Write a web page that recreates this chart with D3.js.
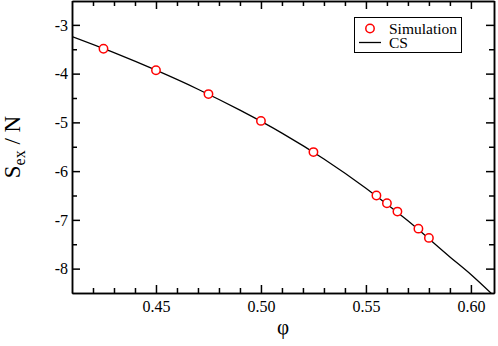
<!DOCTYPE html>
<html lang="en">
<head>
<meta charset="UTF-8">
<title>Sex / N</title>
<script src="https://cdnjs.cloudflare.com/ajax/libs/d3/7.8.4/d3.min.js"></script>
<style>
  body { margin: 0; background: #fff; }
  svg text { font-family: "Liberation Serif", "DejaVu Serif", serif; fill: #000; }
  .axis path, .axis line { stroke: #000; stroke-width: 1.5; }
</style>
</head>
<body>
<div class="visHolder"></div>
<script>
  // simulation points
  const simPhi = [0.425, 0.45, 0.475, 0.50, 0.525, 0.555, 0.56, 0.565, 0.575, 0.58];
  const simS = [-3.49, -3.93, -4.42, -4.97, -5.61, -6.50, -6.66, -6.83, -7.18, -7.37];
  // CS curve
  const csPhi = [0.41, 0.43, 0.45, 0.47, 0.49, 0.51, 0.53, 0.55, 0.57, 0.59, 0.60, 0.61];
  const csS = [-3.24, -3.57, -3.93, -4.32, -4.75, -5.22, -5.75, -6.35, -7.02, -7.76, -8.12, -8.52];
  // ticks
  const xMajor = [0.45, 0.50, 0.55, 0.60];
  const xMinor = [0.42, 0.43, 0.44, 0.46, 0.47, 0.48, 0.49, 0.51, 0.52, 0.53, 0.54, 0.56, 0.57, 0.58, 0.59];
  const yMajor = [-8, -7, -6, -5, -4, -3];
  const yMinor = [-7.5, -6.5, -5.5, -4.5, -3.5];

  const w = 498, h = 346;
  const pLeft = 72, pRight = 494, pTop = 1, pBottom = 293;

  const svg = d3.select(".visHolder").append("svg")
    .attr("width", w).attr("height", h);

  const x = d3.scaleLinear().domain([0.41, 0.611]).range([pLeft, pRight]);
  const y = d3.scaleLinear().domain([-8.5, -2.5]).range([pBottom, pTop - 0.5]);

  svg.append("defs").append("clipPath").attr("id", "clip")
    .append("rect").attr("x", pLeft).attr("y", pTop).attr("width", pRight - pLeft).attr("height", pBottom - pTop);

  // curve
  const line = d3.line().x((d, i) => x(csPhi[i])).y(d => y(d)).curve(d3.curveMonotoneX);
  svg.append("path")
    .datum(csS)
    .attr("clip-path", "url(#clip)")
    .attr("d", line)
    .attr("fill", "none")
    .attr("stroke", "#000")
    .attr("stroke-width", 1.3);

  // points
  svg.selectAll("circle.sim")
    .data(simS)
    .enter().append("circle")
    .attr("class", "sim")
    .attr("cx", (d, i) => x(simPhi[i]))
    .attr("cy", d => y(d))
    .attr("r", 4.2)
    .attr("fill", "#fff")
    .attr("stroke", "red")
    .attr("stroke-width", 1.5);

  // axes, ticks point inward
  const fmtX = d3.format(".2f");
  const serif = '"Liberation Serif", "DejaVu Serif", serif';
  svg.append("g").attr("class", "axis")
    .attr("transform", "translate(0," + pBottom + ")")
    .call(d3.axisBottom(x).tickValues(xMajor).tickSizeInner(-8).tickSizeOuter(0).tickPadding(8).tickFormat(fmtX))
    .attr("font-family", serif).attr("font-size", 16);
  svg.append("g").attr("class", "axis")
    .attr("transform", "translate(0," + pBottom + ")")
    .call(d3.axisBottom(x).tickValues(xMinor).tickSizeInner(-5).tickSizeOuter(0).tickFormat(""));
  svg.append("g").attr("class", "axis")
    .attr("transform", "translate(0," + pTop + ")")
    .call(d3.axisTop(x).tickValues(xMajor).tickSizeInner(-8).tickSizeOuter(0).tickFormat(""));
  svg.append("g").attr("class", "axis")
    .attr("transform", "translate(0," + pTop + ")")
    .call(d3.axisTop(x).tickValues(xMinor).tickSizeInner(-5).tickSizeOuter(0).tickFormat(""));

  svg.append("g").attr("class", "axis")
    .attr("transform", "translate(" + pLeft + ",0)")
    .call(d3.axisLeft(y).tickValues(yMajor).tickSizeInner(-8).tickSizeOuter(0).tickPadding(4).tickFormat(d => String(d)))
    .attr("font-family", serif).attr("font-size", 16);
  svg.append("g").attr("class", "axis")
    .attr("transform", "translate(" + pLeft + ",0)")
    .call(d3.axisLeft(y).tickValues(yMinor).tickSizeInner(-5).tickSizeOuter(0).tickFormat(""));
  svg.append("g").attr("class", "axis")
    .attr("transform", "translate(" + pRight + ",0)")
    .call(d3.axisRight(y).tickValues(yMajor).tickSizeInner(-8).tickSizeOuter(0).tickFormat(""));
  svg.append("g").attr("class", "axis")
    .attr("transform", "translate(" + pRight + ",0)")
    .call(d3.axisRight(y).tickValues(yMinor).tickSizeInner(-5).tickSizeOuter(0).tickFormat(""));

  // axis titles
  svg.append("text")
    .attr("x", (pLeft + pRight) / 2)
    .attr("y", 334)
    .attr("text-anchor", "middle")
    .style("font-size", "21px")
    .text("φ");

  const yl = svg.append("text")
    .attr("transform", "translate(20," + ((pTop + pBottom) / 2) + ") rotate(-90)")
    .attr("text-anchor", "middle")
    .style("font-size", "23px");
  yl.append("tspan").text("S");
  yl.append("tspan").attr("dy", 5).style("font-size", "16px").text("ex");
  yl.append("tspan").attr("dy", -5).text(" / N");

  // legend
  const lg = svg.append("g");
  lg.append("rect")
    .attr("x", 354.5).attr("y", 17.5).attr("width", 107).attr("height", 35)
    .attr("fill", "#fff").attr("stroke", "#000").attr("stroke-width", 1);
  lg.append("circle")
    .attr("cx", 370).attr("cy", 28.5).attr("r", 4.2)
    .attr("fill", "#fff").attr("stroke", "red").attr("stroke-width", 1.5);
  lg.append("line")
    .attr("x1", 359).attr("x2", 381).attr("y1", 42.5).attr("y2", 42.5)
    .attr("stroke", "#000").attr("stroke-width", 1.3);
  lg.append("text").attr("x", 389).attr("y", 33.5).style("font-size", "15.5px").text("Simulation");
  lg.append("text").attr("x", 389).attr("y", 48).style("font-size", "15.5px").text("CS");
</script>
</body>
</html>
